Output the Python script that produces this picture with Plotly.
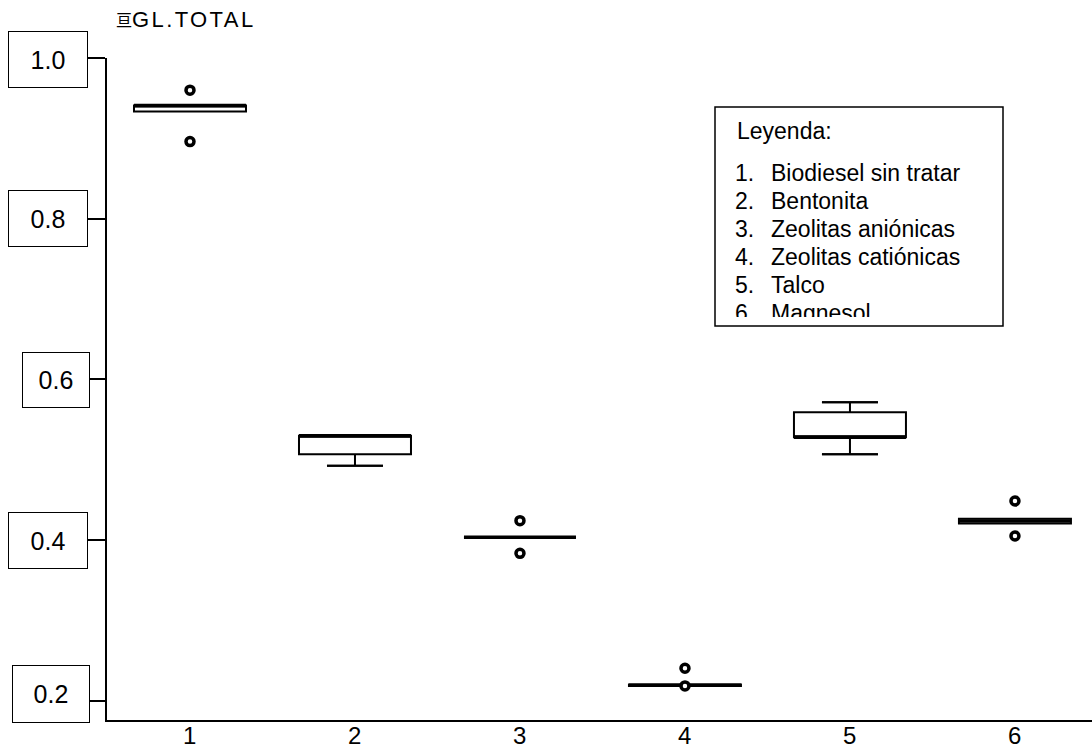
import plotly.graph_objects as go

# ---------------- data ----------------
categories = [1, 2, 3, 4, 5, 6]
x_tick_labels = ["1", "2", "3", "4", "5", "6"]
q1 = [0.9335, 0.507, 0.4036, 0.2185, 0.528, 0.4207]
median = [0.941, 0.530, 0.4036, 0.2195, 0.528, 0.4240]
q3 = [0.941, 0.530, 0.4036, 0.2205, 0.5592, 0.4268]
lower_whisker = [0.9335, 0.4925, 0.4036, 0.2185, 0.507, 0.4207]
upper_whisker = [0.941, 0.530, 0.4036, 0.2205, 0.5716, 0.4268]
outlier_group = [1, 1, 3, 3, 4, 4, 6, 6]
outlier_value = [0.960, 0.896, 0.4243, 0.3837, 0.2407, 0.2187, 0.4488, 0.4053]
y_tick_values = [0.2, 0.4, 0.6, 0.8, 1.0]
y_tick_labels = ["0.2", "0.4", "0.6", "0.8", "1.0"]
title_icon = "亘"
title_text = "GL.TOTAL"
legend_title = "Leyenda:"
legend_numbers = ["1.", "2.", "3.", "4.", "5.", "6."]
legend_items = ["Biodiesel sin tratar", "Bentonita", "Zeolitas aniónicas",
                "Zeolitas catiónicas", "Talco", "Magnesol"]

# ---------------- layout geometry (pixels) ----------------
W, H = 1092, 750
ML, MR, MT, MB = 107, 0, 58, 30
FONT = "Liberation Sans, Arial, sans-serif"
BOX_PX = 112
LINE_EW = 1.4  # plotly's line-ew marker is 1.4 x size wide


def px(x):
    return (x - ML) / (W - ML - MR)


def py(y):
    return (H - MB - y) / (H - MT - MB)


fig = go.Figure()

fig.add_trace(go.Box(
    x=categories, q1=q1, median=median, q3=q3,
    lowerfence=lower_whisker, upperfence=upper_whisker,
    fillcolor="white", line=dict(color="black", width=2),
    boxpoints=False, hoverinfo="skip", showlegend=False,
))

# thicker median lines
fig.add_trace(go.Scatter(
    x=categories, y=median, mode="markers",
    marker=dict(symbol="line-ew", size=BOX_PX / LINE_EW, line=dict(color="black", width=3.5)),
    hoverinfo="skip", showlegend=False,
))

# whisker caps
cap_x, cap_y = [], []
for c, lo, hi, a, b in zip(categories, lower_whisker, upper_whisker, q1, q3):
    if lo < a:
        cap_x.append(c); cap_y.append(lo)
    if hi > b:
        cap_x.append(c); cap_y.append(hi)
fig.add_trace(go.Scatter(
    x=cap_x, y=cap_y, mode="markers",
    marker=dict(symbol="line-ew", size=BOX_PX / 2 / LINE_EW, line=dict(color="black", width=2)),
    hoverinfo="skip", showlegend=False,
))

# outliers
fig.add_trace(go.Scatter(
    x=outlier_group, y=outlier_value, mode="markers",
    marker=dict(symbol="circle", size=8, color="white",
                line=dict(color="black", width=3.5)),
    hoverinfo="skip", showlegend=False,
))

annotations = []

# x tick labels
for c, lab in zip(categories, x_tick_labels):
    annotations.append(dict(
        x=c, xref="x", xanchor="center", y=py(735), yref="paper", yanchor="middle",
        text=lab, showarrow=False, borderpad=0,
        font=dict(family=FONT, size=24, color="black"),
    ))

# y tick label boxes (left, right edges in px; vertical shift in px)
box_left = [12, 8, 22, 8, 8]
box_right = [90, 88, 90, 88, 88]
box_h = [56, 55, 54, 55, 55]
box_shift = [7, 0, -0.5, 0.5, -1.5]
for v, lab, l, r, h, s in zip(y_tick_values, y_tick_labels, box_left, box_right, box_h, box_shift):
    annotations.append(dict(
        x=px(r), xref="paper", xanchor="right",
        y=v, yref="y", yanchor="middle", yshift=s,
        text=lab, showarrow=False, width=r - l - 2, height=h,
        bordercolor="black", borderwidth=1, borderpad=0, bgcolor="white",
        font=dict(family=FONT, size=25, color="black"), align="center", valign="middle",
    ))

# title
annotations.append(dict(
    x=px(115), xref="paper", xanchor="left", y=py(19), yref="paper", yanchor="middle",
    text=title_icon, showarrow=False, borderpad=0,
    font=dict(family="Noto Sans CJK SC, Noto Sans CJK JP, sans-serif", size=16, color="black"),
))
annotations.append(dict(
    x=px(131), xref="paper", xanchor="left", y=py(20), yref="paper", yanchor="middle",
    text="<span style='letter-spacing:2.4px'>" + title_text + "</span>", showarrow=False,
    borderpad=0,
    font=dict(family=FONT, size=22, color="black"),
))

# legend box text
annotations.append(dict(
    x=px(735), xref="paper", xanchor="left", y=py(131), yref="paper", yanchor="middle",
    text=legend_title, showarrow=False, font=dict(family=FONT, size=23, color="black"),
))
row_base = 181
row_step = 28
for i, (n, t) in enumerate(zip(legend_numbers, legend_items)):
    base = row_base + i * row_step
    last = i == len(legend_items) - 1
    for xx, txt in ((735, n), (771, t)):
        a = dict(x=px(xx), xref="paper", xanchor="left", yref="paper",
                 text=txt, showarrow=False, borderpad=0, borderwidth=0,
                 font=dict(family=FONT, size=23, color="black"), align="left")
        if last:
            a.update(y=py(base - 21), yanchor="top", height=17, valign="top")
        else:
            a.update(y=py(base - 8), yanchor="middle")
        annotations.append(a)

shapes = [dict(type="rect", xref="paper", yref="paper",
               x0=px(715), x1=px(1003), y0=py(326), y1=py(107),
               line=dict(color="black", width=1.5), fillcolor="rgba(0,0,0,0)")]

fig.update_layout(
    width=W, height=H,
    margin=dict(l=ML, r=MR, t=MT, b=MB, pad=0, autoexpand=False),
    paper_bgcolor="white", plot_bgcolor="white",
    boxgap=1 - BOX_PX / 165, boxgroupgap=0,
    showlegend=False,
    annotations=annotations,
    shapes=shapes,
    xaxis=dict(range=[0.497, 6.467], tickvals=categories, showticklabels=False,
               showline=True, linecolor="black", linewidth=2, ticks="",
               showgrid=False, zeroline=False, automargin=False),
    yaxis=dict(range=[0.1763, 1.0], tickvals=y_tick_values, showticklabels=False,
               showline=True, linecolor="black", linewidth=2,
               ticks="outside", ticklen=19, tickwidth=2, tickcolor="black",
               showgrid=False, zeroline=False, automargin=False),
)

fig.write_html("out.html")
